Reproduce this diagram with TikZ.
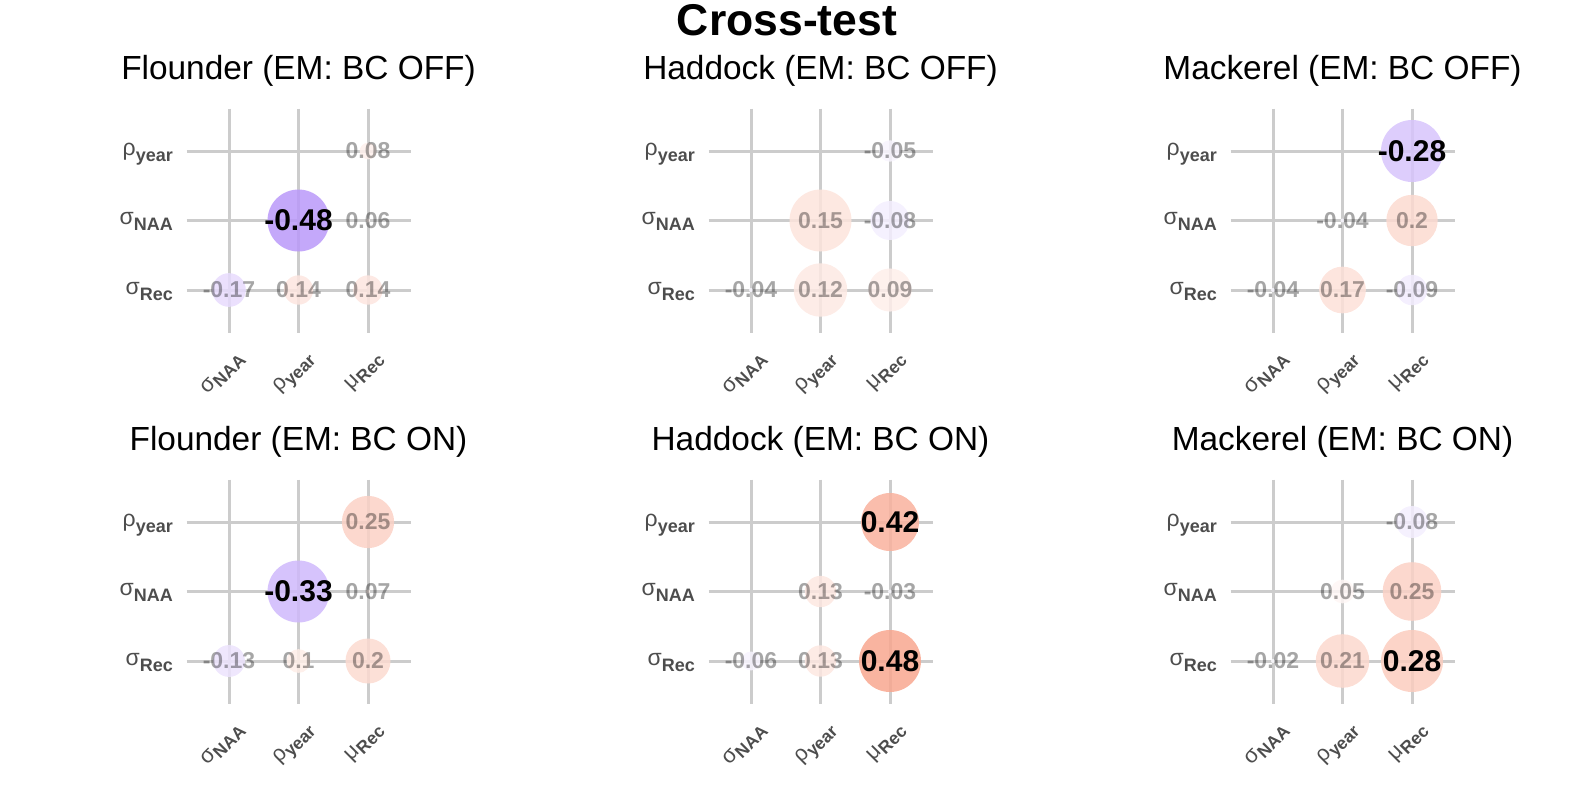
\documentclass[tikz,border=0pt]{standalone}
\usepackage{fontspec}
\setmainfont{Liberation Sans}
\definecolor{negc}{RGB}{186,153,249}
\definecolor{posc}{RGB}{248,167,143}
\definecolor{gridc}{RGB}{204,204,204}
\definecolor{axc}{RGB}{77,77,77}
\newcommand\ylab[2]{#1\raisebox{-6pt}{\fontsize{18}{18}\selectfont\bfseries #2}}
\newcommand\xlab[2]{#1\raisebox{-4pt}{\fontsize{17.5}{17.5}\selectfont\bfseries #2}}
\tikzset{
  gridline/.style={draw=gridc,line width=3pt},
  ptitle/.style={anchor=base,inner sep=0pt,font=\fontsize{33.4}{36}\selectfont},
  mtitle/.style={anchor=base,inner sep=0pt,font=\fontsize{44.5}{48}\selectfont\bfseries},
  ylabel/.style={anchor=base east,inner sep=0pt,text=axc,font=\fontsize{23}{23}\selectfont},
  xlabel/.style={anchor=north east,rotate=45,inner sep=0pt,text=axc,font=\fontsize{22}{22}\selectfont},
  dot/.style={circle,inner sep=0pt,draw=none,fill opacity=0.85},
  bignum/.style={inner sep=0pt,text=black,font=\fontsize{30}{30}\selectfont\bfseries},
  smallnum/.style={inner sep=0pt,text=black,text opacity=0.35,font=\fontsize{23}{23}\selectfont\bfseries}
}
\newcommand\panel[7]{%
  \begin{scope}[shift={(#2,#3)}]
    \foreach \ii in {0,1,2}{
      \draw[gridline] (\ii*69.5,-42.5) -- (\ii*69.5,181.5);
      \draw[gridline] (-42.5,\ii*69.5) -- (181.5,\ii*69.5);
    }
    \node[ptitle] (title#1) at (69.5,-72) {#4};
    \node[ylabel] (ya#1) at (-56,4) {\ylab{ρ}{year}};
    \node[ylabel] (yb#1) at (-56,73.5) {\ylab{σ}{NAA}};
    \node[ylabel] (yc#1) at (-56,143) {\ylab{σ}{Rec}};
    \node[xlabel] (xa#1) at (7,199) {\xlab{σ}{NAA}};
    \node[xlabel] (xb#1) at (76.5,199) {\xlab{ρ}{year}};
    \node[xlabel] (xc#1) at (146,199) {\xlab{μ}{Rec}};
    \foreach \cl/\rw/\vl in {#7}{
      \pgfmathsetmacro\av{abs(\vl)}
      \pgfmathsetmacro\rad{2+29*sqrt(max(0,\av-#5)/(#6-#5))}
      \pgfmathtruncatemacro\pp{min(100,round(\av/0.48*100))}
      \pgfmathtruncatemacro\isneg{\vl<0}
      \ifnum\isneg=1 \def\cc{negc}\else\def\cc{posc}\fi
      \node[dot,minimum size={2*\rad*1pt},fill=\cc!\pp!white] (c#1\cl\rw) at (\cl*69.5,\rw*69.5) {};
    }
    \foreach \cl/\rw/\vl in {#7}{
      \pgfmathtruncatemacro\isbig{abs(\vl)>0.26}
      \ifnum\isbig=1
        \node[bignum] (t#1\cl\rw) at (\cl*69.5,\rw*69.5) {\vl};
      \else
        \node[smallnum] (t#1\cl\rw) at (\cl*69.5,\rw*69.5) {\vl};
      \fi
    }
  \end{scope}}
\begin{document}
\begin{tikzpicture}[x=1pt,y=-1pt]
\useasboundingbox (0,0) rectangle (1574,787);
\node[mtitle] (main) at (787,35) {Cross-test};
\panel{a}{229}{151}{Flounder (EM: BC OFF)}{0.06}{0.48}{2/0/0.08,1/1/-0.48,2/1/0.06,0/2/-0.17,1/2/0.14,2/2/0.14}
\panel{b}{751}{151}{Haddock (EM: BC OFF)}{0.04}{0.15}{2/0/-0.05,1/1/0.15,2/1/-0.08,0/2/-0.04,1/2/0.12,2/2/0.09}
\panel{c}{1273}{151}{Mackerel (EM: BC OFF)}{0.04}{0.28}{2/0/-0.28,1/1/-0.04,2/1/0.2,0/2/-0.04,1/2/0.17,2/2/-0.09}
\panel{d}{229}{522}{Flounder (EM: BC ON)}{0.07}{0.33}{2/0/0.25,1/1/-0.33,2/1/0.07,0/2/-0.13,1/2/0.1,2/2/0.2}
\panel{e}{751}{522}{Haddock (EM: BC ON)}{0.03}{0.48}{2/0/0.42,1/1/0.13,2/1/-0.03,0/2/-0.06,1/2/0.13,2/2/0.48}
\panel{f}{1273}{522}{Mackerel (EM: BC ON)}{0.02}{0.28}{2/0/-0.08,1/1/0.05,2/1/0.25,0/2/-0.02,1/2/0.21,2/2/0.28}
\end{tikzpicture}
\end{document}
